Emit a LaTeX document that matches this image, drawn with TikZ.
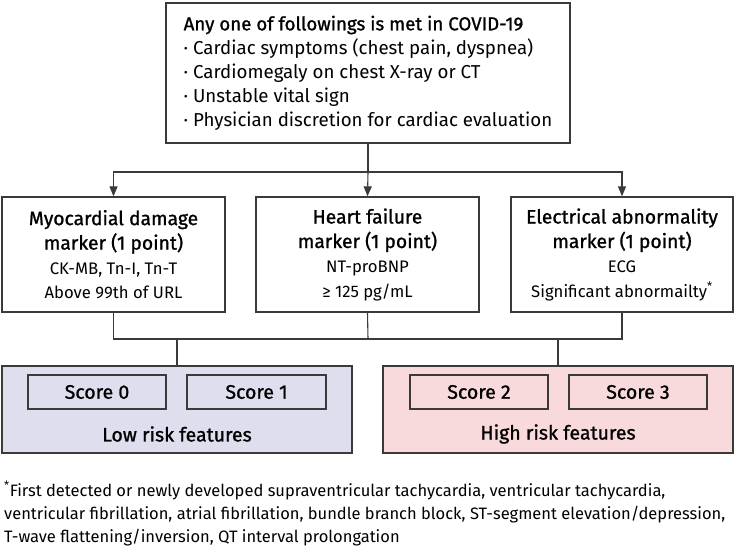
\documentclass[tikz,border=0pt]{standalone}
\usepackage{fontspec}
\setmainfont{Fira Sans}
\newfontfamily\medfont{Fira Sans}[FakeBold=1.1]
\usetikzlibrary{arrows.meta}
\definecolor{edge}{HTML}{3A3A3A}
\definecolor{lowfill}{HTML}{DEDFEE}
\definecolor{highfill}{HTML}{F8DADD}
\newcommand{\ttl}[1]{{\medfont\fontsize{19.3}{24.5}\selectfont #1}}
\newcommand{\dtl}[1]{{\fontsize{16.7}{24.5}\selectfont #1}}
\tikzset{
  box/.style={draw=edge, line width=1.3pt, fill=white, inner sep=0pt, align=center},
  markerbox/.style={box, minimum width=223pt, minimum height=115pt, font=\fontsize{19.3}{24.5}\selectfont},
  conn/.style={draw=edge, line width=1.1pt},
  arr/.style={conn, -{Triangle[length=10pt,width=8pt]}},
  scorebox/.style={box, minimum width=138pt, minimum height=34pt, font=\medfont\fontsize{19.5}{22}\selectfont},
  riskbox/.style={box, minimum width=350pt, minimum height=87pt},
  risklabel/.style={font=\medfont\fontsize{19.5}{22}\selectfont, inner sep=0pt},
}
\begin{document}
\begin{tikzpicture}[x=1pt,y=-1pt]
\useasboundingbox (0,0) rectangle (736,552);
% top box
\node[box, minimum width=404pt, minimum height=140pt, align=left, font=\fontsize{18.7}{24}\selectfont] (top) at (368,73)
  {{\medfont Any one of followings is met in COVID-19}\\
   · Cardiac symptoms (chest pain, dyspnea)\\
   · Cardiomegaly on chest X-ray or CT\\
   · Unstable vital sign\\
   · Physician discretion for cardiac evaluation};
% marker boxes
\node[markerbox] (m1) at (113.5,254.5)
  {\ttl{Myocardial damage}\\ \ttl{marker (1 point)}\\ \dtl{CK-MB, Tn-I, Tn-T}\\ \dtl{Above 99th of URL}};
\node[markerbox] (m2) at (367.5,254.5)
  {\ttl{Heart failure}\\ \ttl{marker (1 point)}\\ \dtl{NT-proBNP}\\ \dtl{≥ 125 pg/mL}};
\node[markerbox, minimum width=222pt] (m3) at (622,254.5)
  {\ttl{Electrical abnormality}\\ \ttl{marker (1 point)}\\ \dtl{ECG}\\ \dtl{Significant abnormailty\textsuperscript{*}}};
% connectors from top
\coordinate (j1) at (368,172);
\draw[conn] (top.south) -- (j1);
\draw[arr] (j1) -| (m1.north);
\draw[arr] (j1) -- (m2.north);
\draw[arr] (j1) -| (m3.north);
% risk boxes
\node[riskbox, fill=lowfill] (low) at (177,409.5) {};
\node[riskbox, fill=highfill] (high) at (558,409.5) {};
\node[scorebox, fill=lowfill] (s0) at (97,392) {Score 0};
\node[scorebox, fill=lowfill, minimum width=139pt] (s1) at (256.5,392) {Score 1};
\node[scorebox, fill=highfill] (s2) at (479,392) {Score 2};
\node[scorebox, fill=highfill] (s3) at (638,392) {Score 3};
\node[risklabel] (lowlab) at (177,434) {Low risk features};
\node[risklabel] (highlab) at (558,434) {High risk features};
% connectors to risk boxes
\coordinate (j2) at (368,339);
\draw[conn] (m1.south) |- (j2) -| (m3.south);
\draw[conn] (m2.south) -- (j2);
\draw[conn] (low.north |- j2) -- (low.north);
\draw[conn] (high.north |- j2) -- (high.north);
% footnote
\node[anchor=north west, align=left, inner sep=0pt, font=\fontsize{16.5}{23}\selectfont] (foot) at (4,481)
  {\textsuperscript{*}First detected or newly developed supraventricular tachycardia, ventricular tachycardia,\\
   ventricular fibrillation, atrial fibrillation, bundle branch block, ST-segment elevation/depression,\\
   T-wave flattening/inversion, QT interval prolongation};
\end{tikzpicture}
\end{document}
